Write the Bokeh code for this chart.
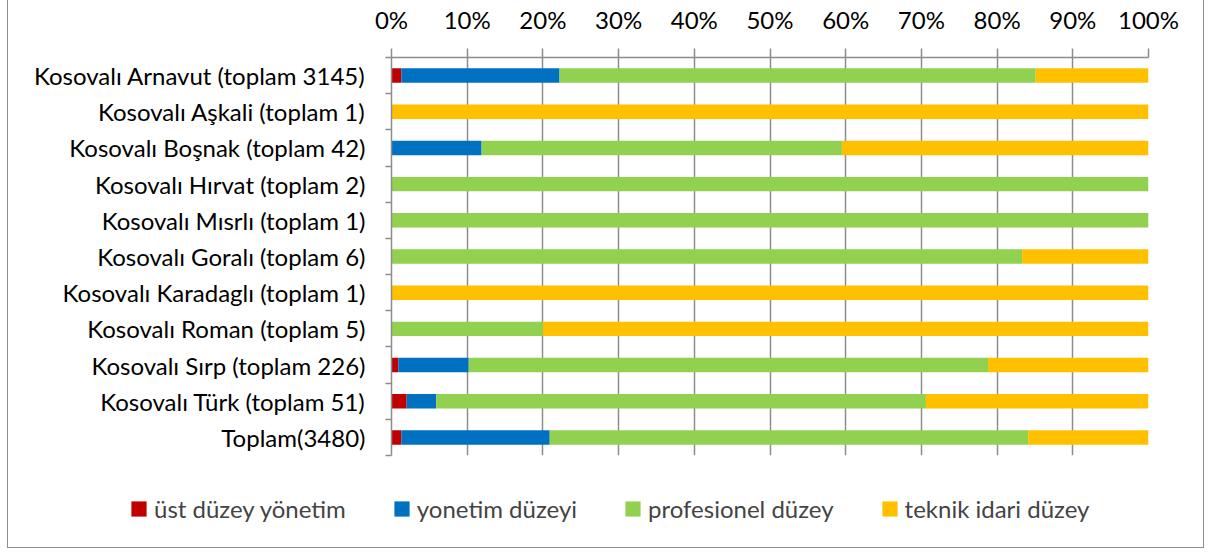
from bokeh.plotting import figure
from bokeh.layouts import column
from bokeh.models import (Range1d, FixedTicker, NumeralTickFormatter, Legend, LegendItem,
                          ColumnDataSource)
from bokeh.embed import file_html
from bokeh.resources import INLINE

categories = ["Kosovalı Arnavut (toplam 3145)", "Kosovalı Aşkali (toplam 1)",
              "Kosovalı Boşnak (toplam 42)", "Kosovalı Hırvat (toplam 2)",
              "Kosovalı Mısrlı (toplam 1)", "Kosovalı Goralı (toplam 6)",
              "Kosovalı Karadaglı (toplam 1)", "Kosovalı Roman (toplam 5)",
              "Kosovalı Sırp (toplam 226)", "Kosovalı Türk (toplam 51)", "Toplam(3480)"]
series_names = ["üst düzey yönetim", "yonetim düzeyi", "profesionel düzey", "teknik idari düzey"]
ust_duzey = [1.3, 0, 0, 0, 0, 0, 0, 0, 0.9, 2.0, 1.3]
yonetim = [20.9, 0, 11.9, 0, 0, 0, 0, 0, 9.3, 3.9, 19.6]
profesionel = [62.9, 0, 47.6, 100, 100, 83.3, 0, 20, 68.6, 64.7, 63.2]
teknik = [14.9, 100, 40.5, 0, 0, 16.7, 100, 80, 21.2, 29.4, 15.9]
x_ticks = [0, 0.1, 0.2, 0.3, 0.4, 0.5, 0.6, 0.7, 0.8, 0.9, 1.0]

colors = ["#C00000", "#0070C0", "#92D050", "#FFC000"]
FONT = "Lato"
FSIZE = "24px"
GRAY = "#8c8c8c"

n = len(categories)
ypos = [n - 1 - i for i in range(n)]
keys = ["s0", "s1", "s2", "s3"]
data = dict(
    y=ypos,
    s0=[v / 100 for v in ust_duzey],
    s1=[v / 100 for v in yonetim],
    s2=[v / 100 for v in profesionel],
    s3=[v / 100 for v in teknik],
)
src = ColumnDataSource(data)

p = figure(width=1195, height=458, x_range=Range1d(0, 1), y_range=Range1d(-0.5, n - 0.5),
           x_axis_location="above", output_backend="svg", toolbar_location=None,
           min_border_left=383, min_border_right=55, min_border_top=58, min_border_bottom=2)
p.outline_line_color = None
p.frame_align = False

p.hbar_stack(keys, y="y", height=0.4, color=colors, line_color=None, source=src)

# x axis (top)
xa = p.xaxis[0]
xa.ticker = FixedTicker(ticks=x_ticks)
xa.formatter = NumeralTickFormatter(format="0%")
xa.axis_line_color = GRAY
xa.axis_line_width = 1.5
xa.major_tick_line_color = GRAY
xa.major_tick_line_width = 1.5
xa.major_tick_out = 9
xa.major_tick_in = 0
xa.minor_tick_line_color = None
xa.major_label_text_font = FONT
xa.major_label_text_font_size = FSIZE
xa.major_label_text_color = "black"
xa.major_label_standoff = 15

# y axis
ya = p.yaxis[0]
ya.ticker = FixedTicker(ticks=ypos, minor_ticks=[k - 0.5 for k in range(n + 1)])
ya.major_label_overrides = {ypos[i]: categories[i] for i in range(n)}
ya.axis_line_color = GRAY
ya.axis_line_width = 1.5
ya.major_tick_line_color = None
ya.major_tick_out = 0
ya.major_tick_in = 0
ya.minor_tick_line_color = GRAY
ya.minor_tick_line_width = 1.5
ya.minor_tick_out = 6
ya.minor_tick_in = 0
ya.major_label_text_font = FONT
ya.major_label_text_font_size = FSIZE
ya.major_label_text_color = "black"
ya.major_label_standoff = 20

p.xgrid.ticker = FixedTicker(ticks=x_ticks)
p.xgrid.grid_line_color = GRAY
p.xgrid.grid_line_width = 1.5
p.ygrid.grid_line_color = None

# legend figure (the same series, drawn far outside its visible ranges)
lf = figure(width=1195, height=90, x_range=Range1d(100, 101), y_range=Range1d(100, 101),
            output_backend="svg", toolbar_location=None,
            min_border_left=0, min_border_right=0, min_border_top=0, min_border_bottom=0)
lf.frame_align = False
lf.axis.visible = False
lf.grid.grid_line_color = None
lf.outline_line_color = None
lrs = lf.hbar_stack(keys, y="y", height=0.4, color=colors, line_color=None,
                    source=ColumnDataSource(data))

legend = Legend(items=[LegendItem(label=series_names[i], renderers=[lrs[i]]) for i in range(4)],
                orientation="horizontal", location=(121, 24), padding=0, margin=0,
                spacing=46, glyph_width=19, glyph_height=19, label_standoff=6,
                label_text_font=FONT, label_text_font_size=FSIZE,
                border_line_color=None, background_fill_alpha=0)
lf.add_layout(legend)

layout = column(p, lf, spacing=0,
                styles={"border": f"1px solid {GRAY}", "margin-left": "7px", "margin-top": "-2px"})

open("out.html", "w").write(file_html(layout, INLINE))
